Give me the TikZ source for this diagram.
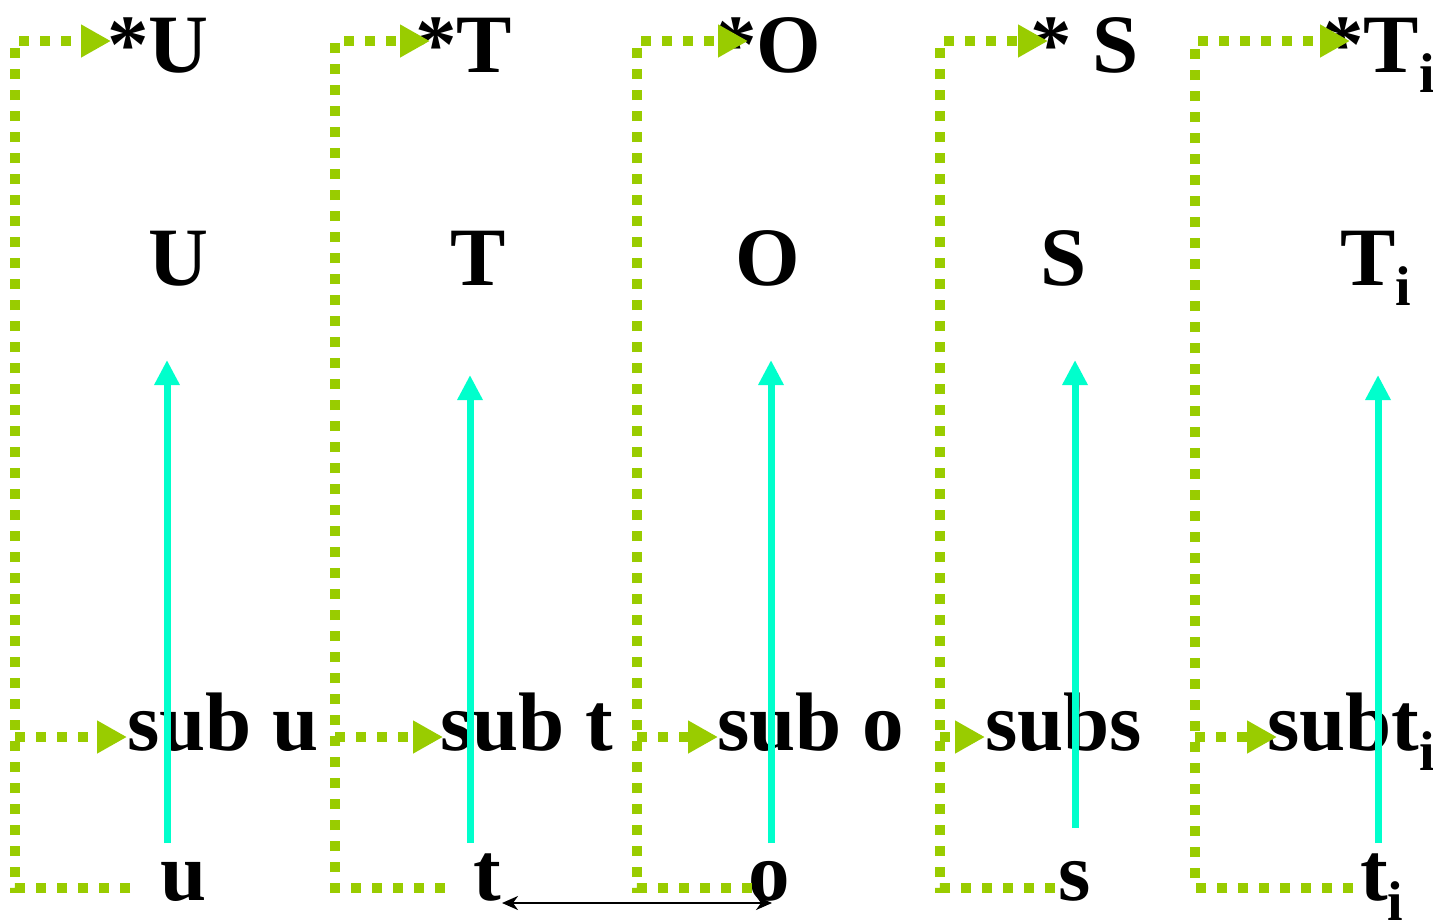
\documentclass[tikz,border=0pt]{standalone}
\usepackage{fontspec}
\setmainfont{Liberation Serif}
\usetikzlibrary{arrows.meta}
\definecolor{lgreen}{HTML}{99CC00}
\definecolor{aqua}{HTML}{00FFCC}
\newcommand{\mysubi}{\raisebox{-20pt}{\fontsize{56}{60}\selectfont i}}
\tikzset{
  lbl/.style={anchor=base west,inner sep=0pt,font=\fontsize{83}{90}\selectfont\bfseries},
  gpath/.style={draw=lgreen,line width=10pt,dash pattern=on 10pt off 11pt},
  gtip/.style={gpath,-{Triangle[length=30pt,width=31pt]}},
  cyarrow/.style={draw=aqua,line width=7pt,-{Triangle[length=25pt,width=24pt]}},
  blkarrow/.style={draw=black,line width=2pt,{Stealth[length=16pt,width=14pt,inset=5pt]}-{Stealth[length=16pt,width=14pt,inset=5pt]}}
}
\begin{document}
\begin{tikzpicture}[x=1pt,y=-1pt]
\useasboundingbox (0,0) rectangle (1433,922);
% labels
\node[lbl] (starU) at (107,72) {*U};
\node[lbl] (U) at (148,285) {U};
\node[lbl] (subu) at (127,750) {sub u};
\node[lbl] (u) at (160,900) {u};
\node[lbl] (starT) at (415,72) {*T};
\node[lbl] (T) at (450,285) {T};
\node[lbl] (subt) at (440,750) {sub t};
\node[lbl] (t) at (473,900) {t};
\node[lbl] (starO) at (715,72) {*O};
\node[lbl] (O) at (735,285) {O};
\node[lbl] (subo) at (717,750) {sub o};
\node[lbl] (o) at (748,900) {o};
\node[lbl] (starS) at (1030,72) {* S};
\node[lbl] (S) at (1040,285) {S};
\node[lbl] (subs) at (985,750) {subs};
\node[lbl] (s) at (1058,900) {s};
\node[lbl] (starTi) at (1322,72) {*T\mysubi};
\node[lbl] (Ti) at (1340,285) {T\mysubi};
\node[lbl] (subti) at (1267,750) {subt\mysubi};
\node[lbl] (ti) at (1360,900) {t\mysubi};
% cyan arrows
\foreach \n/\x/\yb/\yt in {1/167/843/360, 2/470/843/375, 3/771/843/360, 4/1075/828/360, 5/1378/843/375}{
  \coordinate (cb\n) at (\x,\yb);
  \coordinate (ct\n) at (\x,\yt);
  \draw[cyarrow] (cb\n) -- (ct\n);
}
% green dotted paths
\foreach \n/\xl/\xb/\xt/\xs in {1/15/130/111/127, 2/335/445/430/443, 3/637/752/748/718, 4/940/1055/1048/985, 5/1195/1353/1350/1277}{
  \coordinate (gb\n) at (\xb,888);
  \coordinate (gl\n) at (\xl,888);
  \coordinate (gm\n) at (\xl,737);
  \coordinate (gt\n) at (\xl,41);
  \coordinate (ge\n) at (\xt,41);
  \coordinate (gs\n) at (\xs,737);
  \draw[gtip] (gb\n) -- (gl\n) -- (gt\n) -- (ge\n);
  \draw[gtip] (gm\n) -- (gs\n);
}
% black double arrow
\coordinate (bl) at (502,903);
\coordinate (br) at (772,903);
\draw[blkarrow] (bl) -- (br);
\end{tikzpicture}
\end{document}
